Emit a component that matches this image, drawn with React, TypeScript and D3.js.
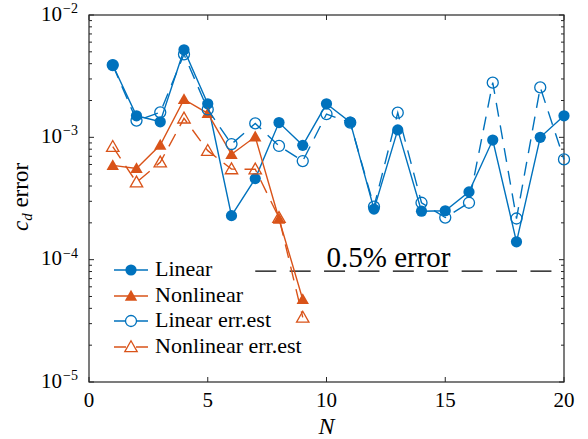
import React from "react";
import * as d3 from "d3";

const N = [1, 2, 3, 4, 5, 6, 7, 8, 9, 10, 11, 12, 13, 14, 15, 16, 17, 18, 19, 20];
const linear = [3.9e-3, 1.5e-3, 1.34e-3, 5.2e-3, 1.88e-3, 2.29e-4, 4.6e-4, 1.32e-3, 8.6e-4, 1.88e-3, 1.33e-3, 2.59e-4, 1.15e-3, 2.49e-4, 2.51e-4, 3.58e-4, 9.5e-4, 1.4e-4, 1.0e-3, 1.5e-3];
const linearEst = [3.9e-3, 1.37e-3, 1.6e-3, 4.77e-3, 1.69e-3, 8.8e-4, 1.3e-3, 8.5e-4, 6.4e-4, 1.55e-3, 1.32e-3, 2.71e-4, 1.59e-3, 2.92e-4, 2.21e-4, 2.92e-4, 2.8e-3, 2.17e-4, 2.56e-3, 6.6e-4];
const Nnl = [1, 2, 3, 4, 5, 6, 7, 8, 9];
const nonlinear = [5.9e-4, 5.57e-4, 8.65e-4, 2.04e-3, 1.57e-3, 7.26e-4, 1.01e-3, 2.15e-4, 4.73e-5];
const nonlinearEst = [8.38e-4, 4.29e-4, 6.25e-4, 1.43e-3, 7.78e-4, 5.5e-4, 5.48e-4, 2.2e-4, 3.37e-5];
const thresholdX = [7, 20];
const thresholdY = 8.07e-5;
const xTicks = [0, 5, 10, 15, 20];
const yDecades = [-5, -4, -3, -2];
const legendLabels = ["Linear", "Nonlinear", "Linear err.est", "Nonlinear err.est"];

const BLUE = "#0072BD";
const ORANGE = "#D95319";
const AX = "#262626";
const FS = { fontFamily: "Liberation Serif" };

const L = 89, R = 564, T = 15, B = 382;

export default function App() {
  const x = d3.scaleLinear().domain([0, 20]).range([L, R]);
  const y = d3.scaleLog().domain([1e-5, 1e-2]).range([B, T]);
  const line = d3.line<[number, number]>().x(d => x(d[0])).y(d => y(d[1]));

  const minor: number[] = [];
  for (let e = -5; e < -2; e++) for (let m = 2; m <= 9; m++) minor.push(m * Math.pow(10, e));

  const tri = (cx: number, cy: number, s = 6.2) =>
    `M${cx},${cy - s} L${cx + s * 1.0},${cy + s * 0.75} L${cx - s * 1.0},${cy + s * 0.75} Z`;

  const linPts = N.map((n, i) => [n, linear[i]] as [number, number]);
  const linEstPts = N.map((n, i) => [n, linearEst[i]] as [number, number]);
  const nlPts = Nnl.map((n, i) => [n, nonlinear[i]] as [number, number]);
  const nlEstPts = Nnl.map((n, i) => [n, nonlinearEst[i]] as [number, number]);

  const legendRows = [270, 296, 321, 347];
  const lx0 = 114, lx1 = 148, lmx = 131, ltx = 155;

  return (
    <svg width={588} height={439} style={{ position: "absolute", left: 0, top: 0, background: "#fff" }}>
      <rect x={L} y={T} width={R - L} height={B - T} fill="none" stroke={AX} strokeWidth={1.2} />
      {xTicks.map(t => (
        <g key={"xt" + t}>
          <line x1={x(t)} x2={x(t)} y1={B} y2={B - 5} stroke={AX} strokeWidth={1} />
          <line x1={x(t)} x2={x(t)} y1={T} y2={T + 5} stroke={AX} strokeWidth={1} />
          <text x={x(t)} y={407} textAnchor="middle" fontSize={21} fill="#000" style={FS}>{t}</text>
        </g>
      ))}
      {yDecades.map(e => {
        const yy = y(Math.pow(10, e));
        return (
          <g key={"yt" + e}>
            <line x1={L} x2={L + 5} y1={yy} y2={yy} stroke={AX} strokeWidth={1} />
            <line x1={R} x2={R - 5} y1={yy} y2={yy} stroke={AX} strokeWidth={1} />
            <text x={62} y={yy + 5.5} textAnchor="end" fontSize={21} fill="#000" style={FS}>10</text>
            <text x={63} y={yy - 2} textAnchor="start" fontSize={14} fill="#000" style={FS}>{"\u2212" + (-e)}</text>
          </g>
        );
      })}
      {minor.map((v, i) => (
        <g key={"ym" + i}>
          <line x1={L} x2={L + 3} y1={y(v)} y2={y(v)} stroke={AX} strokeWidth={1} />
          <line x1={R} x2={R - 3} y1={y(v)} y2={y(v)} stroke={AX} strokeWidth={1} />
        </g>
      ))}
      <text x={326.5} y={434} textAnchor="middle" fontSize={24} fontStyle="italic" fill="#000" style={FS}>N</text>
      <text transform="translate(28,197) rotate(-90)" textAnchor="middle" fontSize={23} fill="#000" style={FS}>
        <tspan fontStyle="italic">c</tspan>
        <tspan fontStyle="italic" fontSize={15} dy={4}>d</tspan>
        <tspan dy={-4}>{" error"}</tspan>
      </text>

      <path d={line([[thresholdX[0], thresholdY], [thresholdX[1], thresholdY]]) || ""} stroke="#000" strokeWidth={1.2} fill="none" strokeDasharray="21,13.4" />
      <text x={x(10)} y={y(thresholdY) - 4} fontSize={29} fill="#000" style={FS}>0.5% error</text>

      <path d={line(linPts) || ""} stroke={BLUE} strokeWidth={1.4} fill="none" />
      {linPts.map((p, i) => <circle key={"lc" + i} cx={x(p[0])} cy={y(p[1])} r={5.6} fill={BLUE} />)}

      <path d={line(nlPts) || ""} stroke={ORANGE} strokeWidth={1.4} fill="none" />
      {nlPts.map((p, i) => <path key={"nt" + i} d={tri(x(p[0]), y(p[1]))} fill={ORANGE} />)}

      <path d={line(linEstPts) || ""} stroke={BLUE} strokeWidth={1.4} fill="none" strokeDasharray="14,9" />
      {linEstPts.map((p, i) => <circle key={"le" + i} cx={x(p[0])} cy={y(p[1])} r={5.5} fill="none" stroke={BLUE} strokeWidth={1.3} />)}

      <path d={line(nlEstPts) || ""} stroke={ORANGE} strokeWidth={1.4} fill="none" strokeDasharray="14,9" />
      {nlEstPts.map((p, i) => <path key={"ne" + i} d={tri(x(p[0]), y(p[1]))} fill="none" stroke={ORANGE} strokeWidth={1.3} />)}

      {legendLabels.map((lab, i) => {
        const cy = legendRows[i];
        const color = i % 2 === 0 ? BLUE : ORANGE;
        const dashed = i >= 2;
        return (
          <g key={"lg" + i}>
            <line x1={lx0} x2={lx1} y1={cy} y2={cy} stroke={color} strokeWidth={1.4} strokeDasharray={dashed ? "12,10" : undefined} />
            {i === 0 && <circle cx={lmx} cy={cy} r={5.6} fill={BLUE} />}
            {i === 1 && <path d={tri(lmx, cy)} fill={ORANGE} />}
            {i === 2 && <circle cx={lmx} cy={cy} r={5.5} fill="none" stroke={BLUE} strokeWidth={1.3} />}
            {i === 3 && <path d={tri(lmx, cy)} fill="none" stroke={ORANGE} strokeWidth={1.3} />}
            <text x={ltx} y={cy + 6} fontSize={22} fill="#000" style={FS}>{lab}</text>
          </g>
        );
      })}
    </svg>
  );
}
